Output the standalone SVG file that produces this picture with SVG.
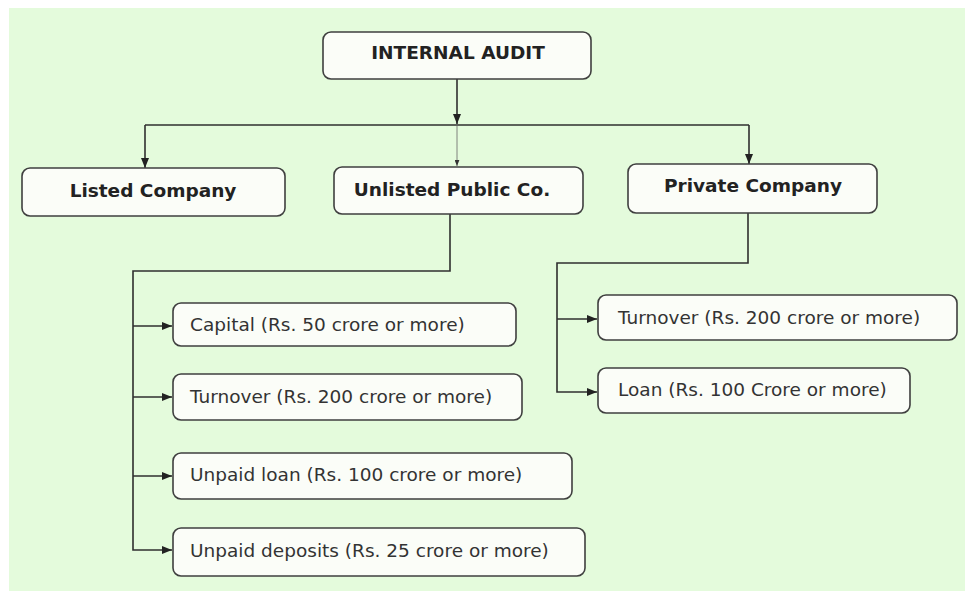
<svg xmlns="http://www.w3.org/2000/svg" width="965" height="591" viewBox="0 0 965 591">
  <style>
    .box { fill: #fbfdf8; stroke: #3f3f3f; stroke-width: 1.6; }
    .head { font-family: "DejaVu Sans", Verdana, sans-serif; font-weight: bold; font-size: 18.5px; fill: #222; text-anchor: middle; }
    .item { font-family: "DejaVu Sans", Verdana, sans-serif; font-size: 18.5px; fill: #333; }
    .wire { fill: none; stroke: #2f2f2f; stroke-width: 1.6; }
    .thin { fill: none; stroke: #666; stroke-width: 0.8; }
  </style>
  <defs>
    <marker id="arrow" viewBox="0 0 10 8" refX="10" refY="4" markerWidth="10" markerHeight="8" markerUnits="userSpaceOnUse" orient="auto">
      <path d="M0,0 L10,4 L0,8 Z" fill="#222"/>
    </marker>
    <marker id="arrowSmall" viewBox="0 0 10 8" refX="10" refY="4" markerWidth="6" markerHeight="5" markerUnits="userSpaceOnUse" orient="auto">
      <path d="M0,0 L10,4 L0,8 Z" fill="#333"/>
    </marker>
  </defs>

  <!-- page background -->
  <rect x="0" y="0" width="965" height="591" fill="#ffffff"/>
  <rect x="9" y="8" width="956" height="583" fill="#e4fbdc"/>

  <!-- connectors -->
  <g id="connectors">
    <path class="wire" d="M457,79 V124" marker-end="url(#arrow)"/>
    <path class="wire" d="M145,125 H749"/>
    <path class="wire" d="M145,125 V168" marker-end="url(#arrow)"/>
    <path class="wire" d="M749,125 V164" marker-end="url(#arrow)"/>
    <path class="thin" d="M457,125 V166" marker-end="url(#arrowSmall)"/>

    <path class="wire" d="M450,214 V271 H133 V550 H172" marker-end="url(#arrow)"/>
    <path class="wire" d="M133,326 H172" marker-end="url(#arrow)"/>
    <path class="wire" d="M133,397 H172" marker-end="url(#arrow)"/>
    <path class="wire" d="M133,476 H172" marker-end="url(#arrow)"/>

    <path class="wire" d="M748,213 V263 H557 V392 H597" marker-end="url(#arrow)"/>
    <path class="wire" d="M557,319 H597" marker-end="url(#arrow)"/>
  </g>

  <!-- top level -->
  <g id="internal-audit">
    <rect class="box" x="323" y="32" width="268" height="47" rx="8"/>
    <text class="head" x="458" y="59">INTERNAL AUDIT</text>
  </g>

  <!-- company types -->
  <g id="listed-company">
    <rect class="box" x="22" y="168" width="263" height="48" rx="8"/>
    <text class="head" x="153" y="197">Listed Company</text>
  </g>
  <g id="unlisted-public-co">
    <rect class="box" x="334" y="167" width="249" height="47" rx="8"/>
    <text class="head" x="452" y="196">Unlisted Public Co.</text>
  </g>
  <g id="private-company">
    <rect class="box" x="628" y="164" width="249" height="49" rx="8"/>
    <text class="head" x="753" y="192">Private Company</text>
  </g>

  <!-- unlisted public company thresholds -->
  <g id="u-capital">
    <rect class="box" x="173" y="303" width="343" height="43" rx="8"/>
    <text class="item" x="190" y="331">Capital (Rs. 50 crore or more)</text>
  </g>
  <g id="u-turnover">
    <rect class="box" x="173" y="374" width="349" height="46" rx="8"/>
    <text class="item" x="190" y="403">Turnover (Rs. 200 crore or more)</text>
  </g>
  <g id="u-loan">
    <rect class="box" x="173" y="453" width="399" height="46" rx="8"/>
    <text class="item" x="190" y="481">Unpaid loan (Rs. 100 crore or more)</text>
  </g>
  <g id="u-deposits">
    <rect class="box" x="173" y="528" width="412" height="48" rx="8"/>
    <text class="item" x="190" y="557">Unpaid deposits (Rs. 25 crore or more)</text>
  </g>

  <!-- private company thresholds -->
  <g id="p-turnover">
    <rect class="box" x="598" y="295" width="359" height="45" rx="8"/>
    <text class="item" x="618" y="324">Turnover (Rs. 200 crore or more)</text>
  </g>
  <g id="p-loan">
    <rect class="box" x="598" y="368" width="312" height="45" rx="8"/>
    <text class="item" x="618" y="396">Loan (Rs. 100 Crore or more)</text>
  </g>
</svg>
